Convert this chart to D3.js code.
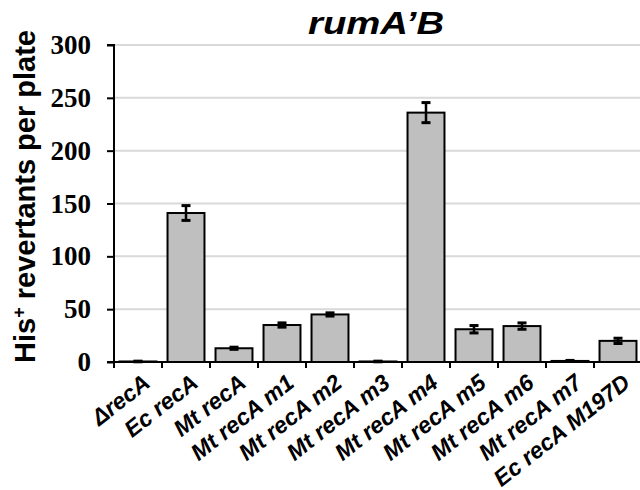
<!DOCTYPE html>
<html>
<head>
<meta charset="utf-8">
<script src="https://cdn.jsdelivr.net/npm/d3@7"></script>
<style>
  body { margin: 0; background: #fff; }
  svg { display: block; }
</style>
</head>
<body>
<div id="app"></div>
<script>
// strains on the x axis
const strains = ['ΔrecA', 'Ec recA', 'Mt recA', 'Mt recA m1', 'Mt recA m2', 'Mt recA m3',
  'Mt recA m4', 'Mt recA m5', 'Mt recA m6', 'Mt recA m7', 'Ec recA M197D']
// mean His+ revertants per plate
const revertants = [0.5, 141, 13, 35, 45, 0.5, 236, 31, 34, 1, 20]
// error (+/-)
const errors = [0.3, 7, 1, 2, 1.5, 0.3, 9.5, 3.5, 3, 0.5, 2.5]
const yTicks = [0, 50, 100, 150, 200, 250, 300]

const W = 640, H = 490
const svg = d3.select('#app').append('svg').attr('width', W).attr('height', H)

const x = d3.scaleBand().domain(strains).range([114, 642]).paddingInner(0.23).paddingOuter(0.115)
const y = d3.scaleLinear().domain([0, 300]).range([362, 45])

// gridlines
svg.append('g').selectAll('line').data(yTicks.slice(1)).enter().append('line')
  .attr('x1', 114).attr('x2', W).attr('y1', d => y(d)).attr('y2', d => y(d))
  .attr('stroke', '#d9d9d9').attr('stroke-width', 2)

// bars
svg.append('g').selectAll('rect').data(strains).enter().append('rect')
  .attr('x', d => x(d)).attr('width', x.bandwidth())
  .attr('y', (d, i) => y(revertants[i]))
  .attr('height', (d, i) => y(0) - y(revertants[i]))
  .attr('fill', '#bfbfbf').attr('stroke', '#000').attr('stroke-width', 2)

// error bars
const eb = svg.append('g').attr('stroke', '#000')
strains.forEach((s, i) => {
  const cx = x(s) + x.bandwidth() / 2
  const lo = y(revertants[i] - errors[i]), hi = y(revertants[i] + errors[i])
  eb.append('line').attr('x1', cx).attr('x2', cx).attr('y1', lo).attr('y2', hi).attr('stroke-width', 2.5)
  ;[lo, hi].forEach(v => eb.append('line').attr('x1', cx - 4.5).attr('x2', cx + 4.5)
    .attr('y1', v).attr('y2', v).attr('stroke-width', 3))
})

// y axis
const yAxis = svg.append('g').attr('transform', 'translate(114,0)')
  .call(d3.axisLeft(y).tickValues(yTicks).tickSize(7).tickPadding(16))
yAxis.select('.domain').attr('stroke-width', 2).attr('d', 'M-7,' + y(300) + 'H0V' + y(0))
yAxis.selectAll('.tick line').attr('stroke-width', 2)
yAxis.selectAll('.tick text')
  .attr('font-family', '"Liberation Serif", "Times New Roman", serif')
  .attr('font-weight', 'bold').attr('font-size', 27).attr('fill', '#000')

// x axis: ticks at band boundaries
const xg = svg.append('g')
xg.append('line').attr('x1', 107).attr('x2', W).attr('y1', y(0)).attr('y2', y(0))
  .attr('stroke', '#000').attr('stroke-width', 2)
const step = x.step()
xg.selectAll('line.t').data(d3.range(strains.length + 1)).enter().append('line')
  .attr('class', 't')
  .attr('x1', d => 114 + d * step).attr('x2', d => 114 + d * step)
  .attr('y1', y(0)).attr('y2', y(0) + 6)
  .attr('stroke', '#000').attr('stroke-width', 2)

xg.selectAll('text').data(strains).enter().append('text')
  .attr('transform', d => `translate(${x(d) + x.bandwidth() / 2 + 3},${y(0) + 10}) rotate(-38)`)
  .attr('text-anchor', 'end').attr('dy', '0.75em')
  .attr('font-family', '"Liberation Sans", Arial, sans-serif')
  .attr('font-weight', 'bold').attr('font-style', 'italic')
  .attr('font-size', 23).text(d => d)

// y title
const yt = svg.append('text')
  .attr('transform', `translate(35,${(28 + 365) / 2}) rotate(-90)`)
  .attr('text-anchor', 'middle')
  .attr('font-family', '"Liberation Sans", Arial, sans-serif')
  .attr('font-weight', 'bold').attr('font-size', 29)
yt.append('tspan').text('His')
yt.append('tspan').attr('baseline-shift', 'super').attr('font-size', 18).text('+')
yt.append('tspan').text(' revertants per plate')

// chart title
svg.append('text').attr('x', 376).attr('y', 34).attr('text-anchor', 'middle')
  .attr('font-family', '"Liberation Sans", Arial, sans-serif')
  .attr('font-weight', 'bold').attr('font-style', 'italic').attr('font-size', 32)
  .attr('textLength', 136).attr('lengthAdjust', 'spacingAndGlyphs')
  .text('rumA\u2019B')
</script>
</body>
</html>
